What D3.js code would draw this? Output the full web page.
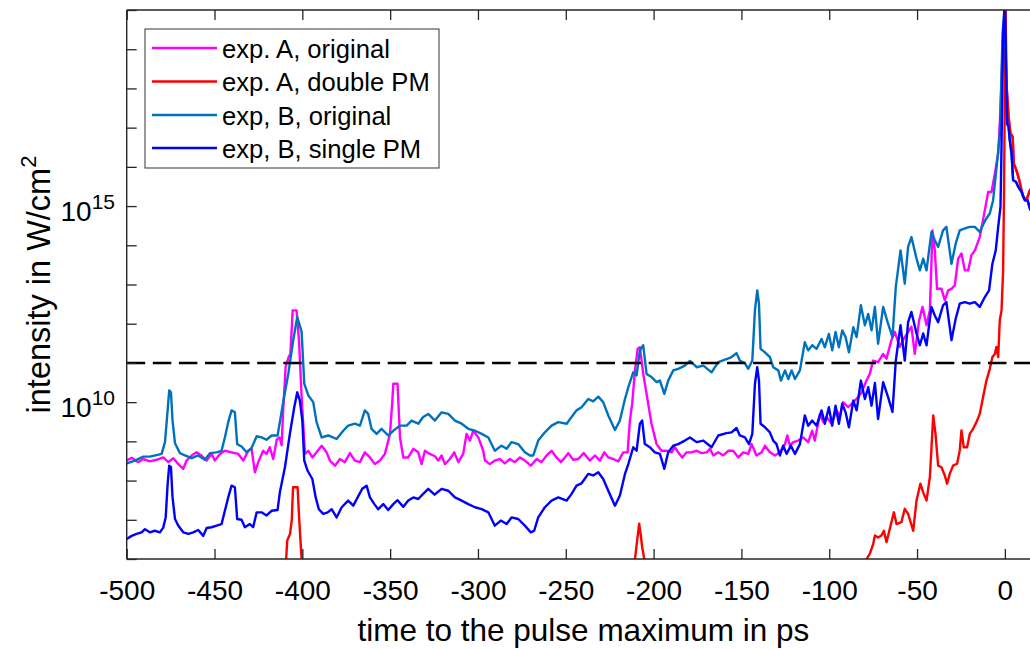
<!DOCTYPE html>
<html>
<head>
<meta charset="utf-8">
<script src="https://cdn.jsdelivr.net/npm/d3@7"></script>
<style>
  body { margin: 0; background: #fff; }
  svg { display: block; font-family: "Liberation Sans", Arial, Helvetica, sans-serif; }
</style>
</head>
<body>
<svg id="chart" width="1030" height="650"></svg>
<script>
// Series labels and colours (legend order = drawing order)
const seriesNames = ["exp. A, original", "exp. A, double PM", "exp, B, original", "exp, B, single PM"];
const seriesColors = ["#ff00ff", "#ff0000", "#0072bd", "#0000ff"];

// Axis ticks
const xTickValues = [-500, -450, -400, -350, -300, -250, -200, -150, -100, -50, 0];
const yTickExponents = [6, 7, 8, 9, 10, 11, 12, 13, 14, 15, 16, 17, 18, 19, 20];
const yLabelExponents = [10, 15];

// Threshold intensity (dashed line), W/cm^2
const thresholdIntensity = 1e11;

// Each series: [time in ps, log10(intensity in W/cm^2)]
const expAOriginal = [
  [-500, 8.51], [-497.2, 8.58], [-493.4, 8.47], [-490.6, 8.55], [-486.8, 8.49], [-483, 8.53],
  [-479.2, 8.59], [-476.3, 8.47], [-473.5, 8.57], [-470.6, 8.42], [-467.8, 8.30], [-465.9, 8.51],
  [-463, 8.64], [-460.2, 8.72], [-457.4, 8.64], [-454.5, 8.51], [-451.7, 8.68], [-449.8, 8.51],
  [-446.9, 8.68], [-444.1, 8.76], [-440.3, 8.72], [-436.5, 8.68], [-433.6, 8.51], [-430.8, 8.76],
  [-428.9, 8.81], [-427, 8.21], [-425.1, 8.47], [-422.3, 8.76], [-420.4, 8.68], [-418.5, 8.85],
  [-416.6, 8.55], [-414.5, 9.05], [-413, 9.10], [-411.8, 8.90], [-410.9, 9.8], [-409.5, 10.9],
  [-407.8, 11.15], [-406.8, 11.23], [-405.5, 12.34], [-403.3, 12.34], [-401.9, 11.57], [-400.4, 10.13],
  [-398.5, 8.68], [-396.6, 8.76], [-394.3, 8.59], [-391.9, 8.72], [-389, 8.89], [-386.2, 8.72],
  [-384.3, 8.51], [-381.4, 8.38], [-378.6, 8.55], [-375.8, 8.47], [-372.9, 8.70], [-370.1, 8.51],
  [-367.2, 8.47], [-364.4, 8.72], [-361.5, 8.59], [-358.7, 8.42], [-355.8, 8.51], [-353, 8.68],
  [-350.1, 9.19], [-348.8, 10.0], [-348.2, 10.47], [-345.8, 10.47], [-344.4, 9.10], [-342.5, 8.59],
  [-339.7, 8.59], [-336.8, 8.81], [-334, 8.72], [-332.1, 8.42], [-330.2, 8.76], [-327.4, 8.68],
  [-324.5, 8.62], [-322.6, 8.51], [-320.7, 8.64], [-318.8, 8.42], [-316, 8.55], [-313.5, 8.72],
  [-311.2, 8.47], [-308.4, 8.68], [-306.5, 9.19], [-304.6, 9.02], [-302.7, 9.27], [-299.8, 9.10],
  [-297, 8.76], [-296, 8.51], [-293.2, 8.42], [-290.4, 8.51], [-287.5, 8.55], [-284.7, 8.44],
  [-281.8, 8.55], [-279, 8.47], [-276.1, 8.59], [-273.3, 8.51], [-269.9, 8.38], [-266.6, 8.55],
  [-263.8, 8.47], [-260.9, 8.64], [-258.1, 8.76], [-255.3, 8.59], [-252.8, 8.47], [-250.5, 8.59],
  [-248.6, 8.70], [-245.8, 8.53], [-242.9, 8.55], [-239.8, 8.70], [-236.3, 8.51], [-233.4, 8.64],
  [-230.6, 8.51], [-228.1, 8.72], [-225.8, 8.59], [-223, 8.55], [-220.1, 8.49], [-217.3, 8.72],
  [-214.8, 8.72], [-213.5, 9.53], [-212.2, 9.96], [-210.6, 10.81], [-209.1, 11.36], [-207.8, 11.40],
  [-205.9, 10.72], [-204, 10.21], [-201.2, 9.45], [-198.3, 8.93], [-195.5, 8.76], [-192.6, 8.76],
  [-189.8, 8.72], [-187.9, 8.85], [-186, 8.72], [-183.7, 8.59], [-181.2, 8.72], [-178.4, 8.72],
  [-175.5, 8.76], [-172.7, 8.70], [-169.8, 8.72], [-167.9, 8.81], [-166, 8.64], [-163.2, 8.72],
  [-160.4, 8.64], [-157.5, 8.76], [-154.7, 8.76], [-151.8, 8.59], [-149, 8.72], [-146.1, 8.68],
  [-144.2, 8.93], [-141.4, 8.64], [-138.5, 8.72], [-136.6, 8.89], [-133.8, 8.72], [-130.9, 8.64],
  [-128.1, 8.72], [-125.2, 8.93], [-123.9, 9.15], [-122.4, 8.89], [-120.5, 8.98], [-117.7, 9.02],
  [-114.8, 9.10], [-112, 8.98], [-109.7, 9.27], [-108.2, 9.02], [-105.3, 9.70], [-103.4, 9.49],
  [-101.5, 9.62], [-98.7, 9.45], [-95.8, 9.79], [-94, 9.62], [-92.1, 10.0], [-89.2, 9.87],
  [-86.3, 10.0], [-83.5, 10.13], [-81.6, 10.25], [-78.8, 10.55], [-76.9, 10.72], [-75, 11.06],
  [-72.2, 11.02], [-69.3, 11.23], [-67.4, 11.11], [-64.6, 11.58], [-62.7, 11.79], [-59.8, 11.41],
  [-58, 11.58], [-55.1, 11.79], [-53.2, 11.92], [-51.3, 11.23], [-48.8, 12.09], [-46.9, 12.43],
  [-44.6, 11.96], [-42.7, 12.34], [-41.2, 14.38], [-39.9, 13.87], [-38.6, 12.89], [-36.1, 12.89],
  [-34.2, 12.60], [-32.3, 12.85], [-30.4, 12.89], [-28.5, 12.98], [-26.6, 13.66], [-24.7, 13.79],
  [-22.8, 13.36], [-20.9, 13.36], [-19, 13.75], [-17.1, 13.87], [-14.3, 14.21], [-12.3, 14.68],
  [-9.5, 15.36], [-7.6, 15.36], [-5.7, 15.83], [-3.8, 16.34], [-2.5, 17.45], [-1.3, 18.98],
  [0, 20.0], [1.0, 18.04], [1.5, 17.7], [2.1, 17.28], [3.2, 16.85], [4.4, 16.77], [5.1, 16.08],
  [6.6, 15.91], [8.2, 15.66], [10.4, 15.23], [12.3, 15.15], [14.2, 15.4], [16, 15.5]
];

const expADoublePM = [
  [-411, 5.0], [-409.2, 6.0], [-408.6, 6.47], [-407, 6.64], [-406, 7.0], [-405.3, 7.83],
  [-402.7, 7.83], [-402, 7.2], [-401.3, 6.64], [-400.4, 6.0], [-399.5, 5.0],
  [-212, 5.0], [-210.6, 6.0], [-209.3, 6.5], [-208.2, 6.9], [-207.3, 6.6], [-206.5, 6.3],
  [-205.3, 6.0], [-204, 5.0],
  [-80.5, 5.0], [-79, 5.98], [-76.9, 6.13], [-75, 6.38], [-74, 6.60], [-72.2, 6.55], [-70.3, 6.60],
  [-68.9, 6.72], [-67.4, 6.43], [-65.5, 6.77], [-63.2, 7.19], [-61.7, 6.89], [-58.9, 6.94],
  [-57, 7.28], [-55.1, 7.15], [-52.2, 6.72], [-50.3, 7.49], [-48.1, 7.92], [-46.5, 7.70],
  [-44.6, 7.49], [-42.7, 8.09], [-40.8, 9.66], [-39.5, 9.19], [-38, 8.38], [-36.1, 8.34],
  [-34.2, 8.13], [-32.9, 7.92], [-31.4, 8.17], [-29.5, 8.38], [-27.2, 8.43], [-25.7, 8.77],
  [-24.7, 9.28], [-23.4, 8.85], [-21.5, 8.85], [-20, 9.19], [-18.1, 9.32], [-16.2, 9.49],
  [-14.3, 9.70], [-12.4, 10.13], [-10.5, 10.55], [-8.6, 10.85], [-7.1, 11.15], [-5.7, 11.23],
  [-4.8, 11.41], [-3.8, 11.15], [-2.9, 12.09], [-1.9, 12.34], [-1.0, 13.36], [-0.5, 15.3],
  [0.4, 20.0], [1.0, 18.04], [1.5, 17.7], [2.1, 17.28], [3.2, 16.85], [4.4, 16.77], [5.1, 16.08],
  [6.6, 15.91], [8.2, 15.66], [10.4, 15.23], [12.3, 15.15], [14.2, 15.4], [16, 15.5]
];

const expBOriginal = [
  [-500, 8.44], [-495.3, 8.51], [-490.6, 8.61], [-486.8, 8.61], [-483, 8.65], [-480.1, 8.68],
  [-478.2, 8.98], [-476.7, 9.79], [-475.8, 10.30], [-474.8, 10.25], [-473.9, 9.53], [-472.5, 8.95],
  [-469.7, 8.70], [-466.8, 8.64], [-463, 8.57], [-459.3, 8.64], [-455.5, 8.53], [-452.6, 8.70],
  [-448.8, 8.72], [-446, 8.76], [-444.1, 9.10], [-442.2, 9.49], [-440.3, 9.79], [-438.4, 9.74],
  [-437.1, 8.93], [-434.6, 8.87], [-431.7, 8.72], [-428.9, 8.83], [-426, 9.13], [-423.2, 9.10],
  [-420.4, 9.04], [-417.5, 9.15], [-414.1, 9.15], [-412.8, 9.49], [-410.9, 10.0], [-408, 10.72],
  [-405.2, 11.57], [-402.9, 12.17], [-400.4, 11.79], [-398.9, 10.47], [-396.6, 10.17], [-393.8, 10.0],
  [-391.9, 9.49], [-389, 9.10], [-385.2, 9.15], [-380.5, 9.06], [-376.7, 9.27], [-373.9, 9.40],
  [-370.1, 9.45], [-367.2, 9.40], [-364.4, 9.79], [-362.5, 9.70], [-360.6, 9.32], [-357.7, 9.19],
  [-354.9, 9.32], [-351.1, 9.15], [-348.2, 9.27], [-344.4, 9.40], [-340.6, 9.40], [-337.8, 9.53],
  [-334, 9.45], [-331.2, 9.62], [-328.3, 9.70], [-324.5, 9.53], [-320.7, 9.74], [-316.9, 9.70],
  [-313.1, 9.53], [-309.3, 9.45], [-305.5, 9.32], [-301.7, 9.27], [-297.9, 9.19], [-294.1, 9.10],
  [-290.4, 8.76], [-286.6, 8.89], [-283.7, 8.81], [-280.9, 8.98], [-277.1, 8.93], [-273.3, 8.72],
  [-270.4, 8.64], [-268.5, 8.64], [-265.7, 9.02], [-261.9, 9.23], [-258.1, 9.40], [-254.3, 9.49],
  [-249.5, 9.45], [-246.7, 9.62], [-243.9, 9.79], [-241, 9.87], [-237.2, 10.08], [-234.4, 10.02],
  [-231.5, 10.14], [-228.7, 10.0], [-225.8, 9.66], [-222, 9.29], [-219.2, 9.53], [-216.3, 10.08],
  [-214.4, 10.38], [-211.6, 10.76], [-209.7, 10.68], [-207.8, 11.32], [-205.9, 11.45], [-204, 10.72],
  [-201.2, 10.64], [-198.3, 10.51], [-196.4, 10.55], [-193.9, 10.21], [-191.7, 10.55], [-188.8, 10.81],
  [-186, 10.85], [-182.2, 10.93], [-179.3, 11.05], [-175.5, 10.89], [-171.7, 10.93], [-167, 10.76],
  [-163.2, 11.02], [-158.5, 11.10], [-155.6, 11.15], [-152.8, 11.25], [-150.9, 11.06], [-148, 10.99],
  [-146.1, 10.85], [-143.8, 11.06], [-142.3, 12.34], [-141, 12.85], [-140, 12.51], [-139.1, 11.36],
  [-136.6, 11.27], [-133.8, 11.15], [-131.9, 10.89], [-129, 10.81], [-127.5, 10.55], [-125.2, 10.81],
  [-123.3, 10.59], [-121.4, 10.81], [-119.5, 10.59], [-116.7, 10.81], [-113.9, 11.53], [-112, 11.32],
  [-109.7, 11.45], [-107.2, 11.36], [-104.4, 11.61], [-102.5, 11.40], [-100.2, 11.74], [-98.3, 11.32],
  [-96.4, 11.79], [-94.5, 11.40], [-92.6, 11.83], [-90.7, 11.66], [-88.8, 11.27], [-86.3, 11.91],
  [-84.4, 11.66], [-82, 12.47], [-79.7, 11.96], [-77.8, 12.25], [-75.9, 11.83], [-74, 12.43],
  [-72.2, 11.49], [-69.3, 12.43], [-66.5, 12.0], [-64, 11.66], [-62.1, 12.94], [-59.4, 13.87],
  [-57, 13.02], [-55.1, 13.96], [-53.2, 14.21], [-50.3, 13.66], [-48.4, 13.36], [-46.5, 13.66],
  [-44.6, 13.36], [-41.8, 14.34], [-39.9, 14.13], [-38, 13.96], [-35.2, 14.38], [-33.3, 14.47],
  [-30.4, 13.53], [-28, 14.04], [-25.7, 14.38], [-22.8, 14.43], [-20, 14.47], [-17.1, 14.47],
  [-14.3, 14.34], [-11.4, 14.62], [-8.6, 14.81], [-6.7, 15.15], [-4.7, 16.0], [-2.85, 16.85],
  [-1.3, 19.4], [-0.2, 20.0], [0.6, 18.55], [1.3, 17.1], [2.1, 17.02], [2.8, 16.68], [3.8, 16.34],
  [4.7, 15.66], [6.3, 15.62], [7.6, 15.49], [9.5, 15.36], [11.4, 15.15], [12.9, 15.15], [14.2, 14.94],
  [16, 14.8]
];

const expBSinglePM = [
  [-500, 6.51], [-497.2, 6.59], [-494.4, 6.64], [-491.5, 6.68], [-489.6, 6.76], [-486.8, 6.68],
  [-484, 6.72], [-481.1, 6.68], [-479.2, 6.80], [-477.8, 7.06], [-476.7, 7.91], [-475.8, 8.38],
  [-474.8, 8.34], [-473.9, 7.57], [-472.5, 7.02], [-470.6, 6.85], [-467.8, 6.68], [-464.9, 6.64],
  [-462.1, 6.68], [-459.3, 6.74], [-456.4, 6.59], [-454.5, 6.79], [-451.7, 6.81], [-448.8, 6.85],
  [-446, 6.89], [-444.1, 7.23], [-442.2, 7.57], [-440.3, 7.87], [-438.4, 7.83], [-437.1, 7.02],
  [-434.6, 7.0], [-432.7, 6.81], [-429.9, 6.89], [-428, 6.81], [-426, 7.19], [-423.2, 7.19],
  [-420.4, 7.11], [-417.5, 7.23], [-414.1, 7.25], [-412.8, 7.7], [-409.9, 8.34], [-407.1, 9.19],
  [-404.6, 9.87], [-402.9, 10.25], [-401.4, 10.04], [-400, 9.53], [-398.9, 8.51], [-397, 8.25],
  [-394.3, 8.04], [-392.4, 7.57], [-390.6, 7.27], [-388.1, 7.15], [-385.6, 7.19], [-383.3, 7.27],
  [-380.5, 7.06], [-377.6, 7.32], [-373.9, 7.49], [-371, 7.36], [-368.5, 7.57], [-365.9, 7.79],
  [-363.4, 7.87], [-361.5, 7.57], [-359, 7.40], [-356.8, 7.27], [-353.9, 7.40], [-351.1, 7.25],
  [-348.2, 7.40], [-345.8, 7.50], [-342.5, 7.33], [-339.7, 7.49], [-336.8, 7.57], [-334, 7.53],
  [-331.2, 7.66], [-328.3, 7.79], [-324.7, 7.64], [-320.7, 7.79], [-316.9, 7.74], [-313.1, 7.57],
  [-309.3, 7.49], [-305.5, 7.40], [-301.7, 7.32], [-297.9, 7.27], [-294.1, 7.19], [-290.4, 6.85],
  [-287, 6.98], [-283.7, 6.89], [-280.9, 7.06], [-277.1, 7.02], [-273.3, 6.85], [-269.9, 6.68],
  [-268, 6.72], [-265.7, 7.06], [-261.9, 7.32], [-258.1, 7.49], [-254.3, 7.57], [-249.5, 7.49],
  [-246.7, 7.66], [-243.9, 7.87], [-241, 7.93], [-237.2, 8.17], [-234.4, 8.13], [-231.5, 8.21],
  [-228.7, 8.04], [-225.8, 7.74], [-222, 7.36], [-219.2, 7.62], [-216.3, 8.17], [-214.4, 8.42],
  [-211.6, 8.85], [-209.7, 8.76], [-207.8, 9.45], [-206.5, 9.53], [-205, 8.93], [-202.1, 8.85],
  [-199.3, 8.72], [-196.4, 8.68], [-193.9, 8.30], [-191.7, 8.72], [-188.8, 8.89], [-186, 8.93],
  [-182.2, 9.02], [-179.3, 9.10], [-175.5, 8.98], [-171.7, 9.02], [-167, 8.85], [-163.2, 9.15],
  [-158.5, 9.21], [-155.6, 9.23], [-152.8, 9.34], [-150.9, 9.15], [-148, 9.10], [-145.7, 8.93],
  [-143.8, 9.19], [-142.3, 10.47], [-141, 10.89], [-140, 10.55], [-139.1, 9.45], [-136.6, 9.36],
  [-133.8, 9.23], [-131.9, 9.02], [-130, 8.93], [-128.1, 8.64], [-126.2, 8.89], [-124.3, 8.68],
  [-121.8, 8.89], [-119.5, 8.68], [-116.7, 8.93], [-113.9, 9.66], [-112, 9.40], [-109.7, 9.53],
  [-107.2, 9.40], [-104.4, 9.79], [-102.5, 9.45], [-100.2, 9.87], [-98.3, 9.40], [-96.4, 9.91],
  [-94.5, 9.45], [-92.6, 9.96], [-90.7, 9.74], [-88.8, 9.36], [-86.3, 10.04], [-84.4, 9.79],
  [-82, 10.55], [-79.7, 10.08], [-77.8, 10.38], [-75.9, 9.91], [-74, 10.49], [-72.2, 9.57],
  [-69.3, 10.51], [-66.5, 10.13], [-64, 9.75], [-62.1, 11.06], [-59.4, 11.96], [-57, 11.06],
  [-55.1, 12.04], [-53.2, 12.30], [-50.3, 11.75], [-48.4, 11.45], [-46.5, 11.75], [-44.6, 11.45],
  [-41.8, 12.43], [-39.9, 12.21], [-38, 12.04], [-35.2, 12.47], [-33.3, 12.55], [-30.4, 11.58],
  [-28, 12.13], [-25.7, 12.51], [-22.8, 12.55], [-20, 12.51], [-17.1, 12.55], [-14.3, 12.43],
  [-11.4, 12.68], [-9, 12.85], [-7.1, 13.53], [-5.2, 13.87], [-3.8, 14.47], [-2.5, 14.98],
  [-2.1, 16.0], [-1.5, 17.7], [-1, 19.4], [-0.3, 20.0], [0.2, 20.0], [0.6, 18.55], [1.3, 17.1],
  [2.1, 17.02], [2.8, 16.68], [3.8, 16.34], [4.7, 15.66], [6.3, 15.62], [7.6, 15.49], [9.5, 15.36],
  [11.4, 15.15], [12.9, 15.15], [14.2, 14.94], [16, 14.8]
];

const allSeries = [expAOriginal, expADoublePM, expBOriginal, expBSinglePM];

// ---- layout ----
const plot = { left: 126.7, top: 10, right: 1040, bottom: 559 };
const fontTick = 28, fontLabel = 31.5, fontLegend = 25.6;
const axisColor = "#262626";

const svg = d3.select("#chart");

const x = d3.scaleLinear().domain([-500, 20]).range([plot.left, plot.right]);
const y = d3.scaleLog().domain([1e6, 1e20]).range([plot.bottom, plot.top]);

svg.append("defs").append("clipPath").attr("id", "plot-clip")
  .append("rect")
  .attr("x", plot.left).attr("y", plot.top)
  .attr("width", plot.right - plot.left).attr("height", plot.bottom - plot.top);

// ---- data lines ----
const line = d3.line()
  .x(d => x(d[0]))
  .y(d => y(Math.pow(10, d[1])));

const lines = svg.append("g").attr("clip-path", "url(#plot-clip)");
allSeries.forEach((s, i) => {
  lines.append("path")
    .datum(s)
    .attr("d", line)
    .attr("fill", "none")
    .attr("stroke", seriesColors[i])
    .attr("stroke-width", 2.4)
    .attr("stroke-linejoin", "round");
});

// threshold line
lines.append("line")
  .attr("x1", plot.left).attr("x2", plot.right)
  .attr("y1", y(thresholdIntensity)).attr("y2", y(thresholdIntensity))
  .attr("stroke", "#000")
  .attr("stroke-width", 2.4)
  .attr("stroke-dasharray", "18.5,7.6");

// ---- axes ----
const tickLen = 10;
const xAxisBottom = d3.axisBottom(x).tickValues(xTickValues).tickSize(0).tickFormat(d => d);
const gxb = svg.append("g").attr("transform", `translate(0,${plot.bottom})`).call(xAxisBottom);
gxb.select(".domain").remove();
gxb.selectAll(".tick text")
  .attr("y", 41)
  .attr("dy", 0)
  .attr("font-size", fontTick)
  .attr("font-family", "Liberation Sans, Arial, sans-serif")
  .attr("fill", "#000")
  .text(d => d < 0 ? "-" + Math.abs(d) : d);
gxb.selectAll(".tick").append("line")
  .attr("y1", 0).attr("y2", -tickLen)
  .attr("stroke", axisColor).attr("stroke-width", 1.3);

const xAxisTop = d3.axisTop(x).tickValues(xTickValues).tickSize(0).tickFormat("");
const gxt = svg.append("g").attr("transform", `translate(0,${plot.top})`).call(xAxisTop);
gxt.select(".domain").remove();
gxt.selectAll(".tick").append("line")
  .attr("y1", 0).attr("y2", tickLen)
  .attr("stroke", axisColor).attr("stroke-width", 1.3);

const yAxis = d3.axisLeft(y)
  .tickValues(yTickExponents.map(e => Math.pow(10, e)))
  .tickSize(0).tickFormat("");
const gy = svg.append("g").attr("transform", `translate(${plot.left},0)`).call(yAxis);
gy.select(".domain").remove();
gy.selectAll(".tick").append("line")
  .attr("x1", 0).attr("x2", tickLen)
  .attr("stroke", axisColor).attr("stroke-width", 1.3);

// y tick labels as 10^n
yLabelExponents.forEach(e => {
  const t = svg.append("text")
    .attr("x", 115)
    .attr("y", y(Math.pow(10, e)) + 15)
    .attr("text-anchor", "end")
    .attr("font-size", fontTick)
    .attr("fill", "#000");
  t.append("tspan").text("10");
  t.append("tspan").attr("font-size", 21).attr("dy", -12.5).text(String(e));
});

// axis box lines (left, top, bottom)
const box = svg.append("g").attr("stroke", axisColor).attr("stroke-width", 1.4).attr("fill", "none");
box.append("line").attr("x1", plot.left).attr("x2", plot.left).attr("y1", plot.top).attr("y2", plot.bottom);
box.append("line").attr("x1", plot.left).attr("x2", plot.right).attr("y1", plot.top).attr("y2", plot.top);
box.append("line").attr("x1", plot.left).attr("x2", plot.right).attr("y1", plot.bottom).attr("y2", plot.bottom);

// axis titles
svg.append("text")
  .attr("x", (plot.left + plot.right) / 2)
  .attr("y", 641)
  .attr("text-anchor", "middle")
  .attr("font-size", fontLabel)
  .attr("fill", "#000")
  .text("time to the pulse maximum in ps");

const yTitle = svg.append("text")
  .attr("transform", `translate(50,${(plot.top + plot.bottom) / 2}) rotate(-90)`)
  .attr("text-anchor", "middle")
  .attr("font-size", 32.5)
  .attr("fill", "#000");
yTitle.append("tspan").text("intensity in W/cm");
yTitle.append("tspan").attr("font-size", 22).attr("dy", -14).text("2");

// ---- legend ----
const legend = svg.append("g");
legend.append("rect")
  .attr("x", 145).attr("y", 29).attr("width", 294).attr("height", 139)
  .attr("fill", "#fff").attr("stroke", "#555").attr("stroke-width", 1.2);
const legendRowY = [48, 81.5, 115, 148];
seriesNames.forEach((name, i) => {
  legend.append("line")
    .attr("x1", 152).attr("x2", 217)
    .attr("y1", legendRowY[i]).attr("y2", legendRowY[i])
    .attr("stroke", seriesColors[i]).attr("stroke-width", 2.4);
  legend.append("text")
    .attr("x", 222).attr("y", legendRowY[i] + 9.5)
    .attr("font-size", fontLegend)
    .attr("fill", "#000")
    .text(name);
});
</script>
</body>
</html>
